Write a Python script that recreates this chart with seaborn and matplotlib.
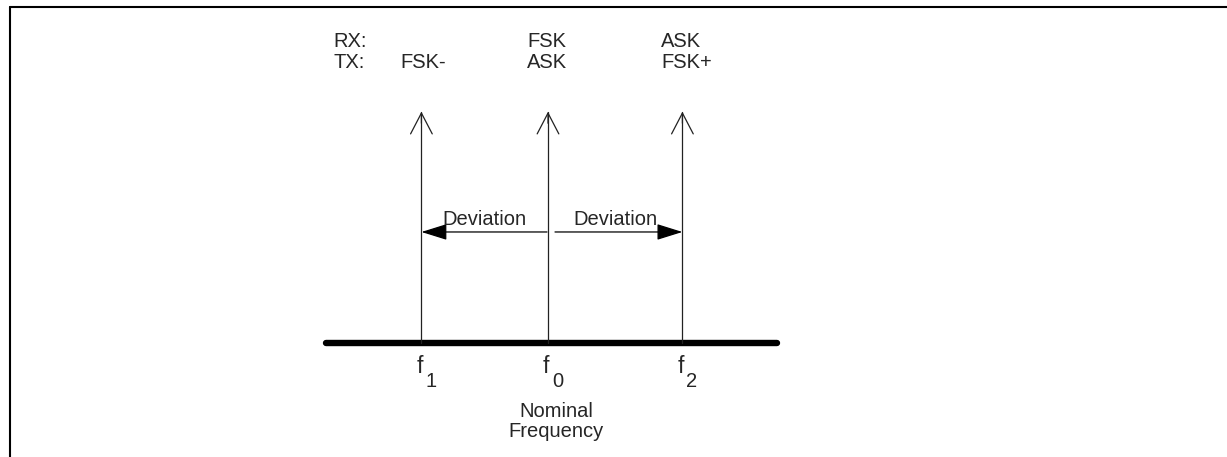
import matplotlib
matplotlib.use("Agg")
import matplotlib.pyplot as plt
from matplotlib.lines import Line2D
import numpy as np
import pandas as pd
import seaborn as sns

# ---- data -------------------------------------------------------------
freq_names = ["f", "f", "f"]
freq_subscripts = ["1", "0", "2"]
freq_pos = [-0.97, 0.0, 1.03]          # in units of the deviation
amplitude = [1.0, 1.0, 1.0]
rx_labels = ["", "FSK", "ASK"]
tx_labels = ["FSK-", "ASK", "FSK+"]
row_titles = ["RX:", "TX:"]
deviation_label = "Deviation"
deviation_level = 0.48
axis_span = [-1.70, 1.755]
nominal_label = ["Nominal", "Frequency"]

# ---- style ------------------------------------------------------------
sns.set_theme(style="white")
plt.rcParams["font.family"] = ["Liberation Sans", "DejaVu Sans"]
FS = 14.5

W, H = 1227, 457
fig = plt.figure(figsize=(W / 100, H / 100), dpi=100)
ax = fig.add_axes([0, 0, 1, 1])
X0, XS = 548.0, 130.5      # px of f0, px per unit
Y0, YS = 343.0, 231.3      # px (from top) of baseline, px per amplitude unit
ax.set_xlim(-X0 / XS, (W - X0) / XS)
ax.set_ylim((Y0 - H) / YS, Y0 / YS)
ax.axis("off")

# baseline
base = pd.DataFrame({"x": axis_span, "y": [0.0, 0.0]})
sns.lineplot(data=base, x="x", y="y", ax=ax, color="black", lw=4.6,
             solid_capstyle="round", legend=False)

# stems
stems = pd.DataFrame({
    "x": np.repeat(freq_pos, 2),
    "y": np.ravel([[0.0, a] for a in amplitude]),
    "id": np.repeat(np.arange(len(freq_pos)), 2),
})
sns.lineplot(data=stems, x="x", y="y", units="id", estimator=None, sort=False,
             ax=ax, color="#222222", lw=0.9, legend=False)

# open arrow heads
for x, a in zip(freq_pos, amplitude):
    ax.annotate("", xy=(x, a), xytext=(x, a - 0.05),
                arrowprops=dict(arrowstyle="->,head_length=1.5,head_width=0.78",
                                lw=0.9, color="#222222", shrinkA=0, shrinkB=0,
                                mutation_scale=10))

# deviation arrows
f0 = freq_pos[1]
gaps_px = [-1, 7]
for target, gap in zip([freq_pos[0], freq_pos[2]], gaps_px):
    ax.annotate("", xy=(target, deviation_level),
                xytext=(f0 + gap / XS, deviation_level),
                arrowprops=dict(arrowstyle="-|>,head_length=1.6,head_width=0.5",
                                lw=0.9, color="black", shrinkA=0, shrinkB=0,
                                mutation_scale=10))
for a, b in [(freq_pos[0], f0), (f0, freq_pos[2])]:
    ax.annotate(deviation_label, xy=((a + b) / 2, deviation_level),
                xytext=(0, 7), textcoords="offset pixels",
                ha="center", va="baseline", fontsize=FS)

# RX / TX labels above stems
tip_px = Y0 - YS * max(amplitude)
row_base = [47, 68]
for r, labels in enumerate([rx_labels, tx_labels]):
    dy = tip_px - row_base[r]
    for x, a, lab in zip(freq_pos, amplitude, labels):
        if lab:
            ax.annotate(lab, xy=(x, a), xytext=(-21, dy), textcoords="offset pixels",
                        ha="left", va="baseline", fontsize=FS)
    ax.annotate(row_titles[r], xy=(freq_pos[0], max(amplitude)),
                xytext=(-88, dy), textcoords="offset pixels",
                ha="left", va="baseline", fontsize=FS)

# frequency labels
for x, n, s in zip(freq_pos, freq_names, freq_subscripts):
    ax.annotate(n, xy=(x, 0), xytext=(-5, -30), textcoords="offset pixels",
                ha="left", va="baseline", fontsize=16.5)
    ax.annotate(s, xy=(x, 0), xytext=(4, -44), textcoords="offset pixels",
                ha="left", va="baseline", fontsize=FS)

for i, txt in enumerate(nominal_label):
    ax.annotate(txt, xy=(f0, 0), xytext=(8, -74 - 20 * i), textcoords="offset pixels",
                ha="center", va="baseline", fontsize=FS)

# frame (top and left rules)
fig.add_artist(Line2D([9.5 / W, 1.0], [(H - 7) / H, (H - 7) / H],
                      transform=fig.transFigure, color="black", lw=1.5))
fig.add_artist(Line2D([9.5 / W, 9.5 / W], [0.0, (H - 7) / H],
                      transform=fig.transFigure, color="black", lw=1.5))

fig.savefig("out.png", dpi=100)
